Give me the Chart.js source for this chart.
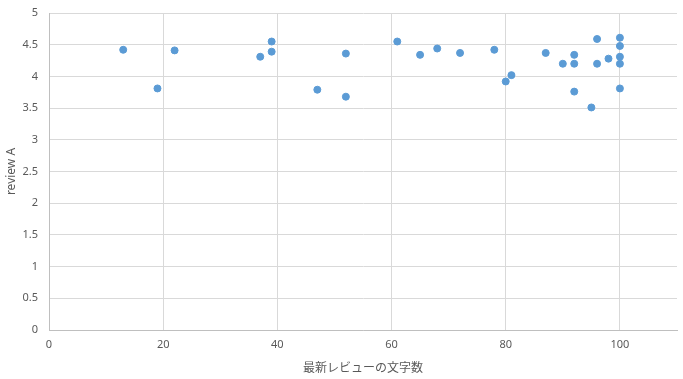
<!DOCTYPE html>
<html><head><meta charset="utf-8">
<script src="https://cdn.jsdelivr.net/npm/chart.js@4"></script>
<style>html,body{margin:0;padding:0;background:#fff}#wrap{width:683px;height:379px}</style>
</head><body><div id="wrap"><canvas id="c" width="683" height="379"></canvas></div>
<script>
const reviewLength = [13,19,22,37,39,39,47,52,52,61,65,68,72,78,80,81,87,90,92,92,92,95,96,96,98,100,100,100,100,100];
const reviewA = [4.42,3.81,4.41,4.31,4.55,4.39,3.79,4.36,3.68,4.55,4.34,4.44,4.37,4.42,3.92,4.02,4.37,4.20,4.34,4.20,3.76,3.51,4.59,4.20,4.28,4.61,4.48,4.31,4.20,3.81];
const xTitle = '最新レビューの文字数';
const yTitle = 'review A';
const pts = reviewLength.map((x,i)=>({x, y: reviewA[i]}));
const tickFont = {family: "'Liberation Sans Narrow', 'Noto Sans', sans-serif", size: 11};
new Chart(document.getElementById('c'), {
  type: 'scatter',
  data: {datasets: [{data: pts, backgroundColor: '#5B9BD5', borderColor: '#5B9BD5', pointRadius: 3.5, pointHoverRadius: 3.5}]},
  options: {
    responsive: false, animation: false,
    layout: {padding: {top: 13, right: 6, left: 0, bottom: 0}},
    plugins: {legend: {display: false}, tooltip: {enabled: false}},
    scales: {
      x: {min: 0, max: 110,
        afterFit: s => { s.height = 49; },
        afterBuildTicks: s => { s.ticks = [0,20,40,60,80,100].map(v=>({value:v})); },
        grid: {color: '#d9d9d9', drawTicks: false},
        border: {color: '#bfbfbf'},
        ticks: {color: '#595959', font: tickFont, padding: 8},
        title: {display: true, text: xTitle, color: '#595959', font: {family: "'Noto Sans CJK JP', sans-serif", size: 12}, padding: {top: 2}}
      },
      y: {min: 0, max: 5,
        afterFit: s => { s.width = 49; s.paddingTop = 0; },
        grid: {color: '#d9d9d9', drawTicks: false},
        border: {color: '#bfbfbf'},
        ticks: {stepSize: 0.5, color: '#595959', font: tickFont, padding: 11, callback: v => String(v)},
        title: {display: true, text: yTitle, color: '#595959', font: {family: "'Noto Sans', sans-serif", size: 12}, padding: {bottom: 0}}
      }
    }
  }
});
</script></body></html>
